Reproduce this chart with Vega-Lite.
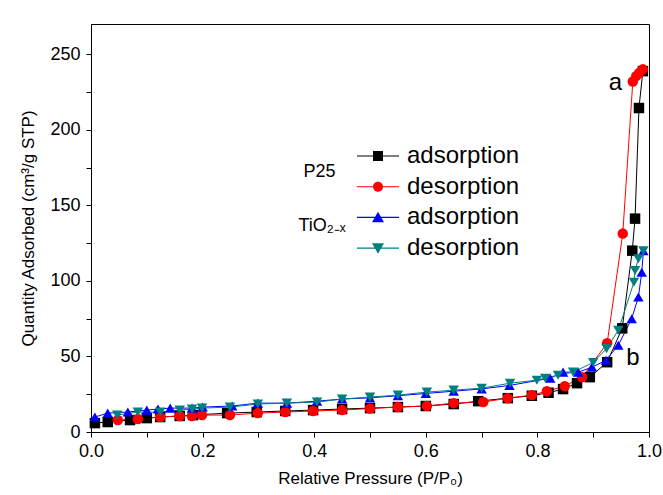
{
  "$schema": "https://vega.github.io/schema/vega-lite/v6.json",
  "width": 558,
  "height": 408,
  "autosize": {"type": "none"},
  "padding": {"left": 91, "top": 24, "right": 14, "bottom": 63},
  "background": "white",
  "config": {
    "view": {"stroke": "black", "strokeWidth": 1},
    "font": "Liberation Sans",
    "axis": {
      "domainColor": "black", "tickColor": "black", "labelColor": "black", "titleColor": "black",
      "grid": false, "tickSize": 5, "labelFont": "Liberation Sans", "titleFont": "Liberation Sans",
      "labelFontSize": 18, "titleFontSize": 17, "titleFontWeight": "normal"
    }
  },
  "resolve": {"scale": {"shape": "independent"}, "legend": {"color": "independent", "shape": "independent"}},
  "datasets": {
    "iso": [
      {"series": "P25 adsorption", "x": 0.007, "y": 5.9},
      {"series": "P25 adsorption", "x": 0.03, "y": 6.6},
      {"series": "P25 adsorption", "x": 0.07, "y": 7.9},
      {"series": "P25 adsorption", "x": 0.1, "y": 9.2},
      {"series": "P25 adsorption", "x": 0.124, "y": 9.9},
      {"series": "P25 adsorption", "x": 0.159, "y": 10.6},
      {"series": "P25 adsorption", "x": 0.183, "y": 11.2},
      {"series": "P25 adsorption", "x": 0.244, "y": 12.5},
      {"series": "P25 adsorption", "x": 0.297, "y": 13.2},
      {"series": "P25 adsorption", "x": 0.348, "y": 13.9},
      {"series": "P25 adsorption", "x": 0.398, "y": 14.5},
      {"series": "P25 adsorption", "x": 0.45, "y": 15.2},
      {"series": "P25 adsorption", "x": 0.5, "y": 15.8},
      {"series": "P25 adsorption", "x": 0.55, "y": 16.5},
      {"series": "P25 adsorption", "x": 0.6, "y": 17.2},
      {"series": "P25 adsorption", "x": 0.65, "y": 18.5},
      {"series": "P25 adsorption", "x": 0.694, "y": 20.4},
      {"series": "P25 adsorption", "x": 0.747, "y": 22.4},
      {"series": "P25 adsorption", "x": 0.79, "y": 24.0},
      {"series": "P25 adsorption", "x": 0.82, "y": 26.0},
      {"series": "P25 adsorption", "x": 0.846, "y": 28.4},
      {"series": "P25 adsorption", "x": 0.871, "y": 32.3},
      {"series": "P25 adsorption", "x": 0.894, "y": 36.3},
      {"series": "P25 adsorption", "x": 0.925, "y": 46.2},
      {"series": "P25 adsorption", "x": 0.952, "y": 68.6},
      {"series": "P25 adsorption", "x": 0.97, "y": 120},
      {"series": "P25 adsorption", "x": 0.975, "y": 141.2},
      {"series": "P25 adsorption", "x": 0.982, "y": 214.4},
      {"series": "P25 adsorption", "x": 0.989, "y": 238.8},
      {"series": "P25 desorption", "x": 0.048, "y": 7.9},
      {"series": "P25 desorption", "x": 0.084, "y": 8.6},
      {"series": "P25 desorption", "x": 0.124, "y": 9.9},
      {"series": "P25 desorption", "x": 0.159, "y": 10.6},
      {"series": "P25 desorption", "x": 0.181, "y": 10.6},
      {"series": "P25 desorption", "x": 0.199, "y": 11.2},
      {"series": "P25 desorption", "x": 0.249, "y": 11.2},
      {"series": "P25 desorption", "x": 0.299, "y": 12.5},
      {"series": "P25 desorption", "x": 0.348, "y": 13.2},
      {"series": "P25 desorption", "x": 0.398, "y": 13.9},
      {"series": "P25 desorption", "x": 0.45, "y": 14.5},
      {"series": "P25 desorption", "x": 0.5, "y": 15.5},
      {"series": "P25 desorption", "x": 0.55, "y": 16.5},
      {"series": "P25 desorption", "x": 0.602, "y": 17.2},
      {"series": "P25 desorption", "x": 0.65, "y": 19.1},
      {"series": "P25 desorption", "x": 0.703, "y": 19.8},
      {"series": "P25 desorption", "x": 0.747, "y": 22.4},
      {"series": "P25 desorption", "x": 0.79, "y": 24.4},
      {"series": "P25 desorption", "x": 0.817, "y": 27.0},
      {"series": "P25 desorption", "x": 0.849, "y": 30.3},
      {"series": "P25 desorption", "x": 0.88, "y": 36.3},
      {"series": "P25 desorption", "x": 0.925, "y": 58.7},
      {"series": "P25 desorption", "x": 0.953, "y": 131.3},
      {"series": "P25 desorption", "x": 0.971, "y": 232},
      {"series": "P25 desorption", "x": 0.977, "y": 235.5},
      {"series": "P25 desorption", "x": 0.982, "y": 237.5},
      {"series": "P25 desorption", "x": 0.989, "y": 240},
      {"series": "TiO2-x adsorption", "x": 0.007, "y": 9.9},
      {"series": "TiO2-x adsorption", "x": 0.03, "y": 12.5},
      {"series": "TiO2-x adsorption", "x": 0.066, "y": 13.2},
      {"series": "TiO2-x adsorption", "x": 0.1, "y": 14.5},
      {"series": "TiO2-x adsorption", "x": 0.12, "y": 15.2},
      {"series": "TiO2-x adsorption", "x": 0.142, "y": 15.8},
      {"series": "TiO2-x adsorption", "x": 0.181, "y": 15.8},
      {"series": "TiO2-x adsorption", "x": 0.2, "y": 16.5},
      {"series": "TiO2-x adsorption", "x": 0.253, "y": 17.2},
      {"series": "TiO2-x adsorption", "x": 0.299, "y": 19.1},
      {"series": "TiO2-x adsorption", "x": 0.351, "y": 19.1},
      {"series": "TiO2-x adsorption", "x": 0.405, "y": 20.4},
      {"series": "TiO2-x adsorption", "x": 0.45, "y": 21.8},
      {"series": "TiO2-x adsorption", "x": 0.5, "y": 22.6},
      {"series": "TiO2-x adsorption", "x": 0.55, "y": 24.0},
      {"series": "TiO2-x adsorption", "x": 0.6, "y": 25.5},
      {"series": "TiO2-x adsorption", "x": 0.65, "y": 27.0},
      {"series": "TiO2-x adsorption", "x": 0.7, "y": 28.5},
      {"series": "TiO2-x adsorption", "x": 0.75, "y": 30.8},
      {"series": "TiO2-x adsorption", "x": 0.823, "y": 35.6},
      {"series": "TiO2-x adsorption", "x": 0.846, "y": 39.6},
      {"series": "TiO2-x adsorption", "x": 0.873, "y": 39.6},
      {"series": "TiO2-x adsorption", "x": 0.898, "y": 42.9},
      {"series": "TiO2-x adsorption", "x": 0.923, "y": 47.5},
      {"series": "TiO2-x adsorption", "x": 0.945, "y": 57.4},
      {"series": "TiO2-x adsorption", "x": 0.969, "y": 75.0},
      {"series": "TiO2-x adsorption", "x": 0.981, "y": 89.3},
      {"series": "TiO2-x adsorption", "x": 0.987, "y": 105.7},
      {"series": "TiO2-x adsorption", "x": 0.99, "y": 120},
      {"series": "TiO2-x desorption", "x": 0.047, "y": 11.2},
      {"series": "TiO2-x desorption", "x": 0.084, "y": 13.2},
      {"series": "TiO2-x desorption", "x": 0.124, "y": 13.2},
      {"series": "TiO2-x desorption", "x": 0.159, "y": 14.5},
      {"series": "TiO2-x desorption", "x": 0.181, "y": 15.2},
      {"series": "TiO2-x desorption", "x": 0.199, "y": 15.8},
      {"series": "TiO2-x desorption", "x": 0.249, "y": 16.5},
      {"series": "TiO2-x desorption", "x": 0.299, "y": 18.5},
      {"series": "TiO2-x desorption", "x": 0.351, "y": 19.1},
      {"series": "TiO2-x desorption", "x": 0.405, "y": 19.8},
      {"series": "TiO2-x desorption", "x": 0.45, "y": 21.8},
      {"series": "TiO2-x desorption", "x": 0.5, "y": 23.1},
      {"series": "TiO2-x desorption", "x": 0.55, "y": 24.4},
      {"series": "TiO2-x desorption", "x": 0.602, "y": 26.4},
      {"series": "TiO2-x desorption", "x": 0.65, "y": 27.7},
      {"series": "TiO2-x desorption", "x": 0.7, "y": 29.0},
      {"series": "TiO2-x desorption", "x": 0.751, "y": 32.3},
      {"series": "TiO2-x desorption", "x": 0.799, "y": 34.3},
      {"series": "TiO2-x desorption", "x": 0.814, "y": 35.6},
      {"series": "TiO2-x desorption", "x": 0.837, "y": 37.6},
      {"series": "TiO2-x desorption", "x": 0.864, "y": 39.6},
      {"series": "TiO2-x desorption", "x": 0.9, "y": 46.0},
      {"series": "TiO2-x desorption", "x": 0.924, "y": 55.2},
      {"series": "TiO2-x desorption", "x": 0.945, "y": 67.3},
      {"series": "TiO2-x desorption", "x": 0.973, "y": 99.1},
      {"series": "TiO2-x desorption", "x": 0.975, "y": 106.9},
      {"series": "TiO2-x desorption", "x": 0.981, "y": 114.6},
      {"series": "TiO2-x desorption", "x": 0.99, "y": 120}
    ],
    "notes": [
      {"text": "a", "x": 0.94, "y": 231, "size": 24},
      {"text": "b", "x": 0.971, "y": 48.8, "size": 24},
      {"text": "P25", "x": 0.4095, "y": 172, "size": 18},
      {"text": "TiO₂₋ₓ", "x": 0.414, "y": 136, "size": 18}
    ]
  },
  "layer": [
    {
      "data": {"name": "iso"},
      "mark": {"type": "line", "strokeWidth": 1},
      "encoding": {
        "x": {"field": "x", "type": "quantitative", "scale": {"domain": [0, 1], "nice": false, "zero": false},
          "axis": {"values": [0, 0.1, 0.2, 0.3, 0.4, 0.5, 0.6, 0.7, 0.8, 0.9, 1.0],
            "labelExpr": "round(datum.value*10) % 2 == 0 ? format(datum.value, '.1f') : ''",
            "title": "Relative Pressure (P/P₀)", "labelPadding": 5, "titlePadding": 10, "labelFlush": false}},
        "y": {"field": "y", "type": "quantitative", "scale": {"domain": [0, 270], "nice": false},
          "axis": {"values": [0, 25, 50, 75, 100, 125, 150, 175, 200, 225, 250],
            "labelExpr": "datum.value % 50 == 0 ? datum.label : ''",
            "title": "Quantity Adsorbed (cm³/g STP)", "labelPadding": 6, "titlePadding": 12}},
        "stroke": {"field": "series", "type": "nominal",
          "scale": {"range": ["#000000", "#ff0000", "#0000ff", "#008080"]},
          "legend": null}
      }
    },
    {
      "data": {"name": "iso"},
      "transform": [{"filter": "datum.x > 5"}],
      "mark": {"type": "point", "filled": true, "opacity": 1, "fillOpacity": 1},
      "encoding": {
        "x": {"field": "x", "type": "quantitative"},
        "y": {"field": "y", "type": "quantitative"},
        "color": {"field": "series", "type": "nominal",
          "scale": {"domain": ["P25 adsorption", "P25 desorption", "TiO2-x adsorption", "TiO2-x desorption"],
            "range": ["#000000", "#ff0000", "#0000ff", "#008080"]},
          "legend": {
            "orient": "none", "legendX": 275, "legendY": 120, "title": null, "padding": 0,
            "labelExpr": "split(datum.label, ' ')[1]",
            "labelFontSize": 24, "labelFont": "Liberation Sans", "labelColor": "black",
            "symbolSize": 100, "labelOffset": 17, "rowPadding": 6.7,
            "symbolOpacity": 1, "symbolStrokeWidth": 0
          }},
        "shape": {"field": "series", "type": "nominal",
          "scale": {"domain": ["P25 adsorption", "P25 desorption", "TiO2-x adsorption", "TiO2-x desorption"],
            "range": [
              "M-4.2,-0.11H4.2V0.11H-4.2Z M-1,-1H1V1H-1Z",
              "M-4.2,-0.11H4.2V0.11H-4.2Z M-1,0A1,1,0,1,1,1,0A1,1,0,1,1,-1,0Z",
              "M-4.2,-0.11H4.2V0.11H-4.2Z M0,-1.15L1.2,0.95H-1.2Z",
              "M-4.2,-0.11H4.2V0.11H-4.2Z M0,1.15L-1.2,-0.95H1.2Z"
            ]}}
      }
    },
    {
      "data": {"name": "iso"},
      "mark": {"type": "point", "filled": true, "opacity": 1, "size": 110},
      "encoding": {
        "x": {"field": "x", "type": "quantitative"},
        "y": {"field": "y", "type": "quantitative"},
        "color": {"field": "series", "type": "nominal", "legend": null},
        "shape": {"field": "series", "type": "nominal",
          "scale": {"range": ["square", "circle", "triangle-up", "triangle-down"]},
          "legend": null}
      }
    },
    {
      "data": {"name": "notes"},
      "mark": {"type": "text", "baseline": "middle", "align": "center", "font": "Liberation Sans", "color": "black"},
      "encoding": {
        "x": {"field": "x", "type": "quantitative"},
        "y": {"field": "y", "type": "quantitative"},
        "text": {"field": "text"},
        "size": {"field": "size", "type": "quantitative", "scale": null}
      }
    }
  ]
}
